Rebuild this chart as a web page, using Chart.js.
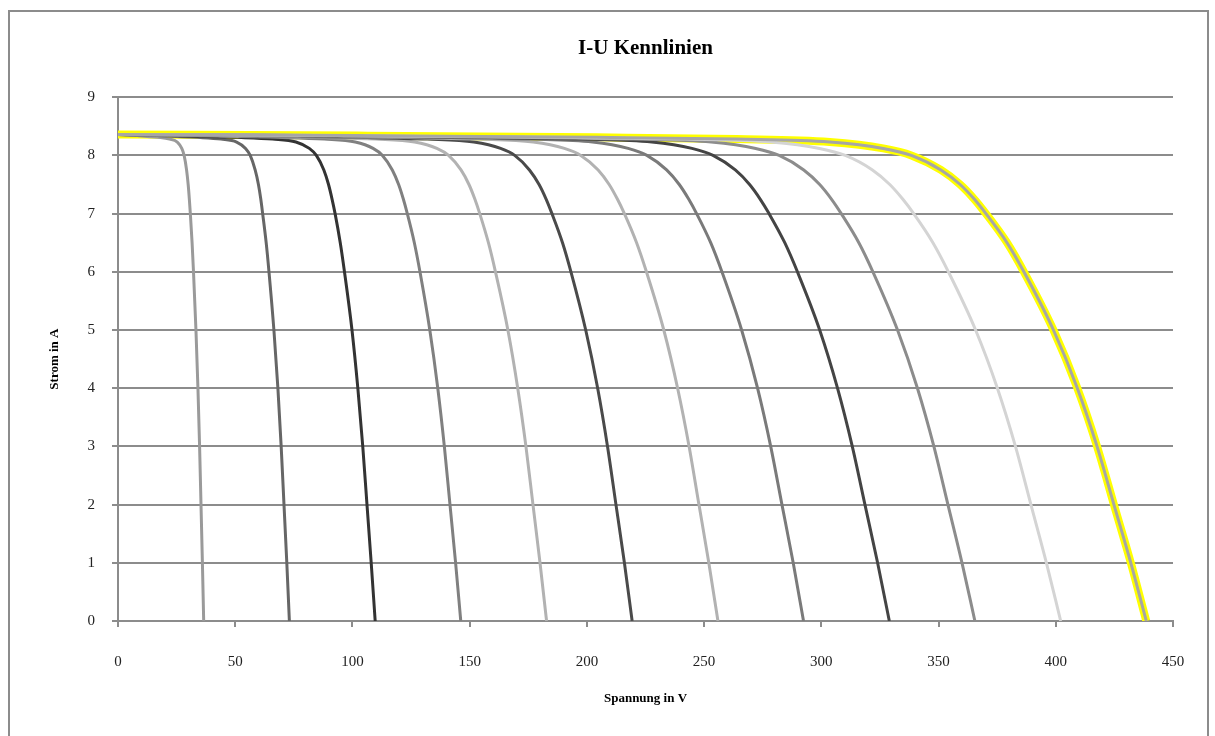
<!DOCTYPE html>
<html>
<head>
<meta charset="utf-8">
<script src="https://cdn.jsdelivr.net/npm/chart.js@4.4.1/dist/chart.umd.min.js"></script>
<style>
  html, body { margin: 0; padding: 0; background: #fff; }
  #rahmen {
    position: absolute; left: 8px; top: 10px;
    width: 1197px; height: 740px;
    border: 2px solid #8c8c8c;
  }
  #wrap { position: absolute; left: 0; top: 0; width: 1215px; height: 736px; }
</style>
</head>
<body>
<div id="rahmen"></div>
<div id="wrap"><canvas id="chart" width="1215" height="736"></canvas></div>
<script>
// Stromwerte (A), gemeinsam fuer alle Kennlinien
const strom = [8.36, 8.34, 8.31, 8.28, 8.23, 8.12, 8.0, 7.75, 7.5, 7.25, 7.0, 6.5, 6.0, 5.0, 4.0, 3.0, 2.0, 1.0, 0];

// Spannung (V) je Kennlinie, 1 bis 12 Module in Reihe
const u1  = [0, 8.5, 17, 22, 25.3, 27.2, 28.2, 29.25, 29.93, 30.43, 30.85, 31.6, 32.2, 33.25, 34.1, 34.8, 35.4, 36.0, 36.55];
const u2  = [0, 17, 34, 44, 50.6, 54.4, 56.4, 58.5, 59.9, 60.9, 61.7, 63.2, 64.4, 66.5, 68.2, 69.6, 70.8, 72.0, 73.1];
const u3  = [0, 25.5, 51, 66, 75.9, 81.6, 84.6, 87.8, 89.8, 91.3, 92.6, 94.8, 96.6, 99.8, 102.3, 104.4, 106.2, 108.0, 109.7];
const u4  = [0, 34, 68, 88, 101.2, 108.8, 112.8, 117.0, 119.7, 121.7, 123.4, 126.4, 128.8, 133.0, 136.4, 139.2, 141.6, 144.0, 146.2];
const u5  = [0, 42.5, 85, 110, 126.5, 136, 141, 146.3, 149.7, 152.2, 154.3, 158, 161, 166.3, 170.5, 174, 177, 180, 182.8];
const u6  = [0, 51, 102, 132, 151.8, 163.2, 169.2, 175.5, 179.6, 182.6, 185.1, 189.6, 193.2, 199.5, 204.6, 208.8, 212.4, 216, 219.3];
const u7  = [0, 59.5, 119, 154, 177.1, 190.4, 197.4, 204.8, 209.5, 213, 216, 221.2, 225.4, 232.8, 238.7, 243.6, 247.8, 252, 255.9];
const u8  = [0, 68, 136, 176, 202.4, 217.6, 225.6, 234, 239.4, 243.4, 246.8, 252.8, 257.6, 266, 272.8, 278.4, 283.2, 288, 292.4];
const u9  = [0, 76.5, 153, 198, 227.7, 244.8, 253.8, 263.3, 269.4, 273.9, 277.7, 284.4, 289.8, 299.3, 306.9, 313.2, 318.6, 324, 329];
const u10 = [0, 85, 170, 220, 253, 272, 282, 292.5, 299.3, 304.3, 308.5, 316, 322, 332.5, 341, 348, 354, 360, 365.5];
const u11 = [0, 93.5, 187, 242, 278.3, 299.2, 310.2, 321.8, 329.2, 334.7, 339.4, 347.6, 354.2, 365.8, 375.1, 382.8, 389.4, 396, 402.1];
const u12 = [0, 102, 204, 264, 303.6, 326.4, 338.4, 351, 359.2, 365.2, 370.2, 379.2, 386.4, 399, 409.2, 417.6, 424.8, 432, 438.6];

const xTicks = [0, 50, 100, 150, 200, 250, 300, 350, 400, 450];
const yTicks = [0, 1, 2, 3, 4, 5, 6, 7, 8, 9];

const kurven = [u1, u2, u3, u4, u5, u6, u7, u8, u9, u10, u11, u12];
const farben = ['#9a9a9a', '#666666', '#333333', '#808080', '#b2b2b2', '#4a4a4a',
                '#b2b2b2', '#7a7a7a', '#444444', '#8c8c8c', '#d4d4d4', '#a6a6a6'];

function punkte(u) {
    return u.map((v, i) => ({ x: v, y: strom[i] }));
}

const datasets = kurven.map((u, k) => ({
    label: (k + 1) + ' Module',
    data: punkte(u),
    borderColor: farben[k],
    borderWidth: 3,
    pointRadius: 0,
    fill: false,
    cubicInterpolationMode: 'monotone',
    order: 12 - k
}));

// gelbe Hervorhebung der letzten Kennlinie (liegt hinten)
datasets.push({
    label: 'Markierung',
    data: punkte(u12),
    borderColor: '#ffff00',
    borderWidth: 8,
    pointRadius: 0,
    fill: false,
    cubicInterpolationMode: 'monotone',
    order: 100
});

const serif = "'Liberation Serif', 'DejaVu Serif', serif";

new Chart(document.getElementById('chart').getContext('2d'), {
    type: 'line',
    data: { datasets: datasets },
    options: {
        responsive: false,
        animation: false,
        layout: { padding: { left: 40, right: 42, top: 20, bottom: 0 } },
        plugins: {
            legend: { display: false },
            tooltip: { enabled: false },
            title: {
                display: true,
                fullSize: false,
                text: 'I-U Kennlinien',
                color: '#000',
                font: { family: serif, size: 21, weight: 'bold' },
                padding: { top: 16, bottom: 36 }
            }
        },
        scales: {
            x: {
                type: 'linear',
                min: 0, max: 450,
                afterFit: s => { s.height = 115; },
                afterBuildTicks: s => { s.ticks = xTicks.map(v => ({ value: v })); },
                border: { color: '#8c8c8c', width: 2 },
                grid: { drawOnChartArea: false, drawTicks: true, tickLength: 6, color: '#8c8c8c', lineWidth: 2 },
                ticks: { color: '#222', font: { family: serif, size: 15 }, padding: 26, maxRotation: 0 },
                title: {
                    display: true, text: 'Spannung in V', color: '#000',
                    font: { family: serif, size: 13, weight: 'bold' },
                    padding: { top: 0, bottom: 30 }
                }
            },
            y: {
                type: 'linear',
                min: 0, max: 9,
                afterFit: s => { s.width = 78; },
                afterBuildTicks: s => { s.ticks = yTicks.map(v => ({ value: v })); },
                border: { color: '#8c8c8c', width: 2 },
                grid: { color: '#8c8c8c', lineWidth: 2, tickLength: 6 },
                ticks: { color: '#222', font: { family: serif, size: 15 }, padding: 17 },
                title: {
                    display: true, text: 'Strom in A', color: '#000',
                    font: { family: serif, size: 13, weight: 'bold' },
                    padding: { top: 7, bottom: 0 }
                }
            }
        }
    }
});
</script>
</body>
</html>
